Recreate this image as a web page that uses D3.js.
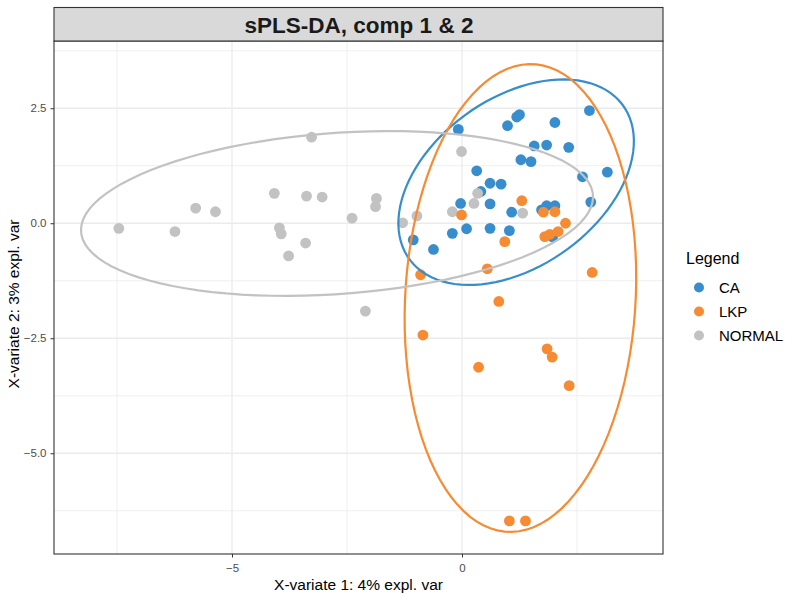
<!DOCTYPE html>
<html><head><meta charset="utf-8">
<script src="https://cdn.jsdelivr.net/npm/d3@7"></script>
<style>body{margin:0;background:#fff}svg{display:block}text{font-family:"Liberation Sans",Arial,sans-serif}</style>
</head><body>
<svg id="c" width="800" height="600"></svg>
<script>
// ---- data ----
const groups = ["CA", "LKP", "NORMAL"];
const groupColors = ["#388ECC", "#F68B33", "#C2C2C2"];
const caX = [-0.08,0.99,1.19,1.25,2.02,2.77,1.57,1.84,2.32,1.28,1.50,0.32,3.16,2.62,0.61,0.85,0.41,-0.03,0.61,2.80,1.08,1.73,1.84,2.02,-0.21,0.10,0.61,1.03,-1.06,-0.62,1.97];
const caY = [2.04,2.12,2.31,2.36,2.19,2.45,1.68,1.70,1.65,1.38,1.34,1.14,1.11,1.01,0.87,0.85,0.69,0.43,0.42,0.46,0.24,0.29,0.38,0.38,-0.22,-0.12,-0.11,-0.16,-0.36,-0.57,-0.30];
const lkpX = [1.30,-0.01,1.77,2.02,2.25,1.80,1.91,2.09,0.93,0.55,-0.90,2.83,0.80,-0.85,0.36,1.85,1.96,2.33,1.03,1.38];
const lkpY = [0.49,0.18,0.24,0.25,0.00,-0.29,-0.24,-0.18,-0.40,-0.99,-1.12,-1.07,-1.70,-2.43,-3.13,-2.73,-2.91,-3.53,-6.47,-6.47];
const normalX = [-7.46,-6.24,-5.79,-5.36,-3.27,-4.08,-3.38,-3.04,-3.97,-3.93,-3.40,-3.77,-2.39,-1.86,-1.88,-2.10,-1.29,-0.98,-0.21,0.26,0.34,-0.01,1.32];
const normalY = [-0.11,-0.18,0.33,0.25,1.87,0.65,0.59,0.57,-0.10,-0.23,-0.43,-0.71,0.11,0.54,0.36,-1.91,0.01,0.16,0.25,0.43,0.65,1.56,0.22];
const xDomain = [-8.87, 4.37];
const yDomain = [-7.19, 3.94];
const xTicks = [-5, 0];
const yTicks = [2.5, 0, -2.5, -5];
const xMinor = [-7.5, -2.5, 2.5];
const yMinor = [3.75, 1.25, -1.25, -3.75, -6.25];
const title = "sPLS-DA, comp 1 & 2";
const xTitle = "X-variate 1: 4% expl. var";
const yTitle = "X-variate 2: 3% expl. var";
const legendTitle = "Legend";
const ellipseLevelT = Math.sqrt(5.991464547); // sqrt(qchisq(0.95, 2))

// ---- layout ----
const L = 54, R = 663, T = 41, B = 554, stripTop = 7.5;
const svg = d3.select("#c");
const x = d3.scaleLinear().domain(xDomain).range([L, R]);
const y = d3.scaleLinear().domain(yDomain).range([B, T + 1]);

const series = [
  {name: groups[0], color: groupColors[0], xs: caX, ys: caY},
  {name: groups[1], color: groupColors[1], xs: lkpX, ys: lkpY},
  {name: groups[2], color: groupColors[2], xs: normalX, ys: normalY}
];

// grid
const g = svg.append("g");
g.selectAll(".vmin").data(xMinor).join("line")
  .attr("x1", d => x(d)).attr("x2", d => x(d)).attr("y1", T).attr("y2", B)
  .attr("stroke", "#EBEBEB").attr("stroke-width", 0.8);
g.selectAll(".hmin").data(yMinor).join("line")
  .attr("y1", d => y(d)).attr("y2", d => y(d)).attr("x1", L).attr("x2", R)
  .attr("stroke", "#EBEBEB").attr("stroke-width", 0.8);
g.selectAll(".vmaj").data(xTicks).join("line")
  .attr("x1", d => x(d)).attr("x2", d => x(d)).attr("y1", T).attr("y2", B)
  .attr("stroke", "#EBEBEB").attr("stroke-width", 1.3);
g.selectAll(".hmaj").data(yTicks).join("line")
  .attr("y1", d => y(d)).attr("y2", d => y(d)).attr("x1", L).attr("x2", R)
  .attr("stroke", "#EBEBEB").attr("stroke-width", 1.3);

// points: order CA, NORMAL, LKP
const drawOrder = [0, 2, 1];
svg.append("clipPath").attr("id", "pc").append("rect")
  .attr("x", L).attr("y", T).attr("width", R - L).attr("height", B - T);
const pg = svg.append("g").attr("clip-path", "url(#pc)");
drawOrder.forEach(i => {
  const s = series[i];
  pg.append("g").selectAll("circle").data(s.xs.map((v, k) => [v, s.ys[k]])).join("circle")
    .attr("cx", d => x(d[0])).attr("cy", d => y(d[1])).attr("r", 5.4)
    .attr("fill", s.color);
});

// ellipses (95% confidence, computed from each group's covariance)
function ellipsePts(xs, ys) {
  const n = xs.length, mx = d3.mean(xs), my = d3.mean(ys);
  let sxx = 0, syy = 0, sxy = 0;
  for (let i = 0; i < n; i++) {
    sxx += (xs[i] - mx) ** 2; syy += (ys[i] - my) ** 2; sxy += (xs[i] - mx) * (ys[i] - my);
  }
  sxx /= n - 1; syy /= n - 1; sxy /= n - 1;
  const sx = Math.sqrt(sxx), sy = Math.sqrt(syy);
  const r = sxy / (sx * sy), dd = Math.acos(r);
  const pts = [];
  for (let k = 0; k <= 100; k++) {
    const a = 2 * Math.PI * k / 100;
    pts.push([ellipseLevelT * sx * Math.cos(a + dd / 2) + mx, ellipseLevelT * sy * Math.cos(a - dd / 2) + my]);
  }
  return pts;
}
const line = d3.line().x(d => x(d[0])).y(d => y(d[1])).curve(d3.curveLinear);
series.forEach(s => {
  pg.append("path").attr("d", line(ellipsePts(s.xs, s.ys)))
    .attr("fill", "none").attr("stroke", s.color).attr("stroke-width", 2.2);
});

// panel border
svg.append("rect").attr("x", L).attr("y", T).attr("width", R - L).attr("height", B - T)
  .attr("fill", "none").attr("stroke", "#333").attr("stroke-width", 1.1);
// strip
svg.append("rect").attr("x", L).attr("y", stripTop).attr("width", R - L).attr("height", T - stripTop)
  .attr("fill", "#D9D9D9").attr("stroke", "#333").attr("stroke-width", 1.1);
svg.append("text").attr("x", (L + R) / 2 + 0.5).attr("y", 32.5)
  .attr("text-anchor", "middle").attr("font-size", 22.5).attr("font-weight", "bold")
  .attr("fill", "#1a1a1a").text(title);

// axes
const xAxis = svg.append("g").attr("transform", `translate(0,${B})`)
  .call(d3.axisBottom(x).tickValues(xTicks).tickSize(3.5).tickPadding(6).tickFormat(d3.format("d")));
const yAxis = svg.append("g").attr("transform", `translate(${L},0)`)
  .call(d3.axisLeft(y).tickValues(yTicks).tickSize(3.5).tickPadding(4).tickFormat(d3.format(".1f")));
[xAxis, yAxis].forEach(a => {
  a.select(".domain").remove();
  a.selectAll(".tick line").attr("stroke", "#333");
  a.selectAll(".tick text").attr("fill", "#4D4D4D").attr("font-size", 11.5)
    .style("font-family", '"Liberation Sans",Arial,sans-serif');
});

svg.append("text").attr("x", (L + R) / 2).attr("y", 590).attr("text-anchor", "middle")
  .attr("font-size", 15.5).attr("fill", "#000").text(xTitle);
svg.append("text").attr("transform", `translate(19,304) rotate(-90)`)
  .attr("text-anchor", "middle").attr("font-size", 15.5).attr("fill", "#000").text(yTitle);

// legend
const lg = svg.append("g");
lg.append("text").attr("x", 686).attr("y", 264).attr("font-size", 16).attr("fill", "#000").text(legendTitle);
series.forEach((s, i) => {
  const cy = 287.5 + i * 24;
  lg.append("circle").attr("cx", 699).attr("cy", cy).attr("r", 5).attr("fill", s.color);
  lg.append("text").attr("x", 719).attr("y", cy + 5.3).attr("font-size", 15).attr("fill", "#000").text(s.name);
});
</script>
</body></html>
